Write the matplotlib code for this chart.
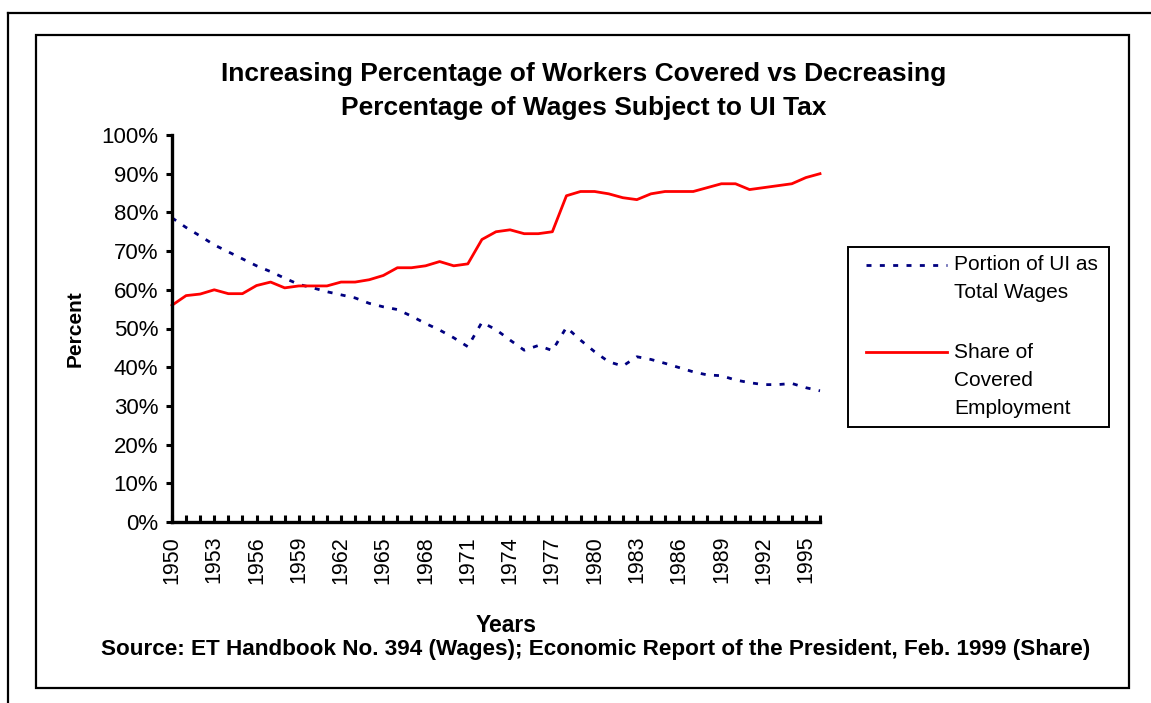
import matplotlib
matplotlib.use("Agg")
import matplotlib.pyplot as plt
from matplotlib.lines import Line2D
from matplotlib.patches import Rectangle

plt.rcParams['font.family'] = ['Liberation Sans', 'DejaVu Sans']

years = list(range(1950, 1997))
ui_portion = [78.6, 76.1, 73.9, 71.6, 69.8, 68.0, 66.2, 64.7, 63.0, 61.4,
              60.5, 59.5, 58.7, 57.9, 56.5, 55.6, 54.9, 53.2, 51.3, 49.6,
              47.6, 45.3, 51.6, 49.7, 47.0, 44.4, 45.6, 44.3, 50.3, 47.0,
              44.0, 41.4, 40.3, 42.7, 42.0, 41.0, 39.9, 38.8, 38.0, 37.8,
              36.7, 36.0, 35.5, 35.5, 35.8, 34.7, 33.9]
covered_share = [56.0, 58.5, 58.9, 60.0, 59.0, 59.0, 61.1, 62.0, 60.5, 61.0,
                 61.0, 61.0, 62.0, 62.0, 62.6, 63.7, 65.7, 65.7, 66.2, 67.3,
                 66.2, 66.7, 73.0, 75.0, 75.5, 74.5, 74.5, 75.0, 84.3, 85.4,
                 85.4, 84.8, 83.8, 83.3, 84.8, 85.4, 85.4, 85.4, 86.4, 87.4,
                 87.4, 85.9, 86.4, 86.9, 87.4, 89.0, 90.0]
label_years = list(range(1950, 1996, 3))
yticks = list(range(0, 101, 10))

W, H = 1151, 703
fig = plt.figure(figsize=(W / 100, H / 100), dpi=100)

def fx(x):
    return x / W

def fy(y):
    return 1 - y / H

# frames
fig.add_artist(Line2D([fx(8), fx(1160)], [fy(13), fy(13)], color='black', lw=1.6))
fig.add_artist(Line2D([fx(8), fx(8)], [fy(13), fy(720)], color='black', lw=1.6))
fig.add_artist(Rectangle((fx(36), fy(688)), fx(1129) - fx(36), fy(35) - fy(688),
                         fill=False, edgecolor='black', lw=1.6))

dash = (0, (1.8, 3.0))
ax = fig.add_axes([fx(172), fy(522), fx(820) - fx(172), fy(135) - fy(522)])
ax.plot(years, ui_portion, color='#000080', lw=2.0, linestyle=dash,
        solid_capstyle='butt', dash_capstyle='butt', clip_on=False)
ax.plot(years, covered_share, color='#FF0000', lw=2.0, clip_on=False)

ax.set_xlim(1950, 1996)
ax.set_ylim(0, 100)
ax.set_xticks(years)
ax.set_xticklabels([str(y) if y in label_years else '' for y in years],
                   rotation=90, fontsize=15.5)
ax.set_yticks(yticks)
ax.set_yticklabels([f"{v}%" for v in yticks], fontsize=16)
for s in ['top', 'right']:
    ax.spines[s].set_visible(False)
for s in ['left', 'bottom']:
    ax.spines[s].set_linewidth(2.4)
ax.tick_params(axis='y', direction='out', length=4, width=2.2, pad=6)
ax.tick_params(axis='x', direction='in', length=5, width=2.2, pad=10)

ax.set_ylabel('Percent', fontsize=15, fontweight='bold', labelpad=12)

fig.text(fx(584), fy(74), 'Increasing Percentage of Workers Covered vs Decreasing',
         ha='center', va='center', fontsize=19, fontweight='bold')
fig.text(fx(584), fy(108), 'Percentage of Wages Subject to UI Tax',
         ha='center', va='center', fontsize=19, fontweight='bold')
fig.text(fx(506), fy(625), 'Years', ha='center', va='center', fontsize=16.5, fontweight='bold')
fig.text(fx(596), fy(650),
         'Source: ET Handbook No. 394 (Wages); Economic Report of the President, Feb. 1999 (Share)',
         ha='center', va='center', fontsize=16.2, fontweight='bold')

# legend
fig.add_artist(Rectangle((fx(848), fy(427)), fx(1109) - fx(848), fy(247) - fy(427),
                         fill=False, edgecolor='black', lw=1.4))
fig.add_artist(Line2D([fx(866), fx(947)], [fy(265), fy(265)], color='#000080', lw=2.0,
                      linestyle=dash, dash_capstyle='butt'))
fig.add_artist(Line2D([fx(866), fx(947)], [fy(352), fy(352)], color='#FF0000', lw=2.0))
leg_lines1 = ['Portion of UI as', 'Total Wages']
leg_lines2 = ['Share of', 'Covered', 'Employment']
for i, t in enumerate(leg_lines1):
    fig.text(fx(954), fy(265 + 28 * i), t, ha='left', va='center', fontsize=15)
for i, t in enumerate(leg_lines2):
    fig.text(fx(954), fy(352 + 28 * i), t, ha='left', va='center', fontsize=15)

fig.savefig('out.png', dpi=100)
